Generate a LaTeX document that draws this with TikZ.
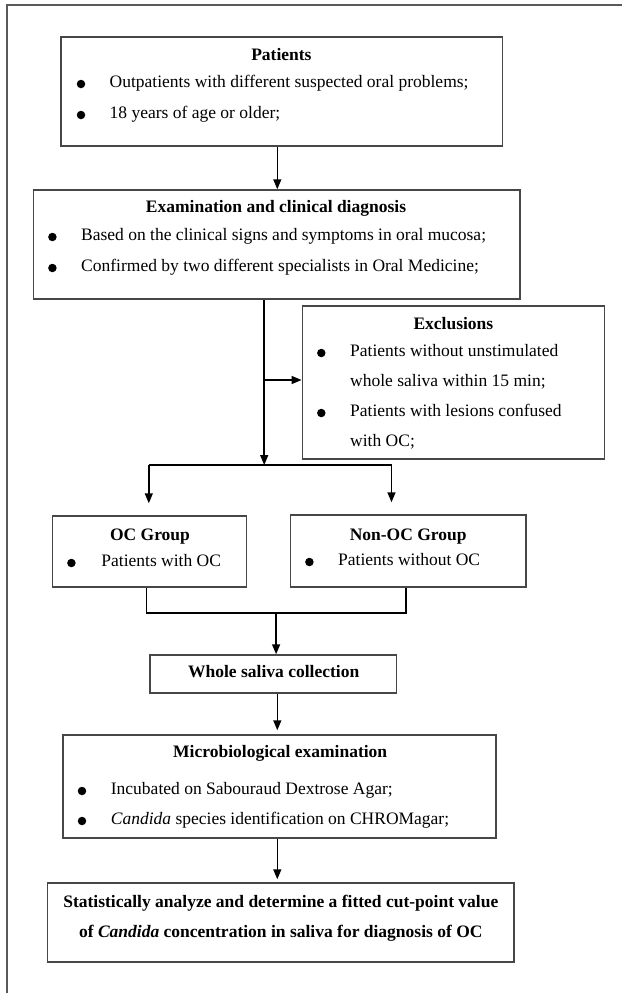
\documentclass[tikz,border=0pt]{standalone}
\usepackage{fontspec}
\setmainfont{Liberation Serif}
\usetikzlibrary{arrows.meta}
\tikzset{
  box/.style={draw=black!72, line width=1.5pt, rectangle, inner sep=0pt},
  arr/.style={draw=black, line width=1.5pt, -{Triangle[length=10pt,width=8pt]}},
  conn/.style={draw=black, line width=1.5pt},
  ttl/.style={font=\fontsize{17.5}{21}\selectfont\bfseries, inner sep=0pt, anchor=base, yshift=-5.8pt},
  txt/.style={font=\fontsize{17.5}{21}\selectfont, anchor=base west, inner sep=0pt, yshift=-3.9pt},
  dot/.style={circle, fill=black, inner sep=0pt, minimum size=8.5pt},
  frame/.style={draw=black!65, line width=1.5pt}
}
\begin{document}
\begin{tikzpicture}[x=1pt,y=-1pt]
\useasboundingbox (0,0) rectangle (622,993);
% outer frame
\coordinate (fa) at (622,5);
\coordinate (fb) at (7,5);
\coordinate (fc) at (7,993);
\draw[frame] (fa) -- (fb) -- (fc);

% Patients
\node[box, minimum width=441.5pt, minimum height=109pt] (pat) at (281.5,91.5) {};
\node[ttl] (patT) at (281.4,55) {Patients};
\node[dot] (patD1) at (81,84) {};
\node[txt] (patL1) at (109.5,84) {Outpatients with different suspected oral problems;};
\node[dot] (patD2) at (81,115) {};
\node[txt] (patL2) at (109.5,115) {18 years of age or older;};

% Examination
\node[box, minimum width=486.7pt, minimum height=109pt] (exam) at (276.7,244.5) {};
\node[ttl] (examT) at (276,207) {Examination and clinical diagnosis};
\node[dot] (examD1) at (52.4,237) {};
\node[txt] (examL1) at (81,237) {Based on the clinical signs and symptoms in oral mucosa;};
\node[dot] (examD2) at (52.4,268) {};
\node[txt] (examL2) at (81,268) {Confirmed by two different specialists in Oral Medicine;};

% Exclusions
\node[box, minimum width=302.2pt, minimum height=153pt] (excl) at (453.4,382.5) {};
\node[ttl] (exclT) at (453.4,324) {Exclusions};
\node[dot] (exclD1) at (321.3,353) {};
\node[txt] (exclL1) at (350,353) {Patients without unstimulated};
\node[txt] (exclL2) at (350,383) {whole saliva within 15 min;};
\node[dot] (exclD2) at (321.3,413) {};
\node[txt] (exclL3) at (350,413) {Patients with lesions confused};
\node[txt] (exclL4) at (350,443) {with OC;};

% OC groups
\node[box, minimum width=194pt, minimum height=71pt] (oc) at (149.3,551.5) {};
\node[ttl] (ocT) at (150,535) {OC Group};
\node[dot] (ocD) at (71.4,563) {};
\node[txt] (ocL) at (101.2,563) {Patients with OC};
\node[box, minimum width=235.6pt, minimum height=72pt] (noc) at (408.2,551) {};
\node[ttl] (nocT) at (408.2,535) {Non-OC Group};
\node[dot] (nocD) at (309.4,562) {};
\node[txt] (nocL) at (338,562) {Patients without OC};

% Whole saliva
\node[box, minimum width=246.3pt, minimum height=38pt] (whole) at (273.2,674) {};
\node[ttl] (wholeT) at (273.7,672) {Whole saliva collection};

% Micro
\node[box, minimum width=433.2pt, minimum height=103pt] (micro) at (279.6,786.5) {};
\node[ttl] (microT) at (280.2,752) {Microbiological examination};
\node[dot] (microD1) at (82,791) {};
\node[txt] (microL1) at (110.7,791) {Incubated on Sabouraud Dextrose Agar;};
\node[dot] (microD2) at (82,821) {};
\node[txt] (microL2) at (110.7,821) {\textit{Candida} species identification on CHROMagar;};

% Final
\node[box, minimum width=466.4pt, minimum height=79pt] (fin) at (280.8,922.5) {};
\node[ttl] (finL1) at (280.8,902) {Statistically analyze and determine a fitted cut-point value};
\node[ttl] (finL2) at (280.8,932) {of \textit{Candida} concentration in saliva for diagnosis of OC};

% connectors
\coordinate (pm) at (277.3,148);
\draw[arr] (pat.south -| pm) -- (exam.north -| pm);

\coordinate (split) at (264.2,465);
\coordinate (br) at (264.2,380);
\draw[arr] (exam.south -| split) -- (split);
\draw[arr] (br) -- (br -| excl.west);

\coordinate (sl) at (148.8,465);
\coordinate (sr) at (391.5,465);
\draw[conn] (sl) -- (sr);
\draw[arr, shorten >=12pt] (sl) -- (sl |- oc.north);
\draw[arr, shorten >=12pt] (sr) -- (sr |- noc.north);

\coordinate (ml) at (146.4,613);
\coordinate (mr) at (405.8,613);
\coordinate (mm) at (276.1,613);
\draw[conn] (oc.south -| ml) -- (ml) -- (mr) -- (noc.south -| mr);
\draw[arr] (mm) -- (whole.north -| mm);

\coordinate (wm) at (277.3,693);
\draw[arr, shorten >=4pt] (whole.south -| wm) -- (micro.north -| wm);
\draw[arr, shorten >=3pt] (micro.south -| wm) -- (fin.north -| wm);
\end{tikzpicture}
\end{document}
